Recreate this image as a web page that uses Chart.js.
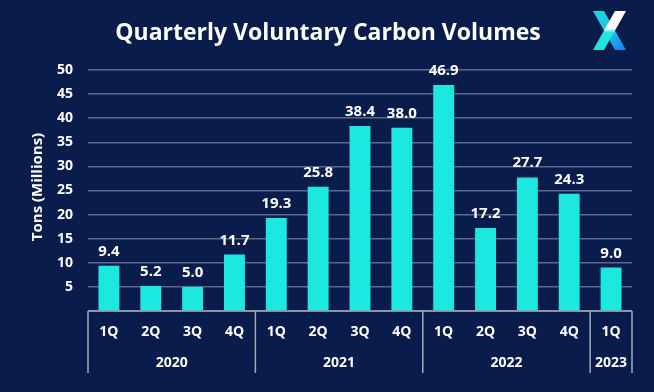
<!DOCTYPE html>
<html>
<head>
<meta charset="utf-8">
<script src="https://cdn.jsdelivr.net/npm/chart.js@4.4.1/dist/chart.umd.min.js"></script>
<style>
  html, body { margin: 0; padding: 0; background: #0a1c4c; }
  #wrap { width: 654px; height: 392px; position: relative; }
</style>
</head>
<body>
<div id="wrap"><canvas id="c" width="654" height="392"></canvas></div>
<script>
const quarters = ['1Q','2Q','3Q','4Q','1Q','2Q','3Q','4Q','1Q','2Q','3Q','4Q','1Q'];
const years = ['2020','2021','2022','2023'];
const yearSpans = [4, 4, 4, 1];
const volumes = [9.4, 5.2, 5.0, 11.7, 19.3, 25.8, 38.4, 38.0, 46.9, 17.2, 27.7, 24.3, 9.0];
const titleText = 'Quarterly Voluntary Carbon Volumes';
const yAxisTitle = 'Tons (Millions)';

const BG = '#0a1c4c';
const BAR = '#1ce8e0';
const GRID = '#5c6886';
const BOX = '#a3abbb';
const FONT = "'Open Sans', 'DejaVu Sans', sans-serif";

const decor = {
  id: 'decor',
  beforeDraw(chart) {
    const ctx = chart.ctx;
    ctx.save();
    ctx.fillStyle = BG;
    ctx.fillRect(0, 0, chart.width, chart.height);
    ctx.restore();
  },
  afterDraw(chart) {
    const ctx = chart.ctx;
    const xs = chart.scales.x;
    const ca = chart.chartArea;
    ctx.save();
    // title
    ctx.fillStyle = '#ffffff';
    ctx.font = "bold 23px " + FONT;
    ctx.textAlign = 'center';
    ctx.textBaseline = 'middle';
    ctx.fillText(titleText, 328, 33);

    // y axis title
    ctx.save();
    ctx.translate(38, 187);
    ctx.rotate(-Math.PI / 2);
    ctx.font = "bold 15px " + FONT;
    ctx.fillText(yAxisTitle, 0, 0);
    ctx.restore();

    // data labels
    const meta = chart.getDatasetMeta(0);
    ctx.font = "bold 15px " + FONT;
    ctx.textBaseline = 'alphabetic';
    meta.data.forEach((bar, i) => {
      ctx.fillText(volumes[i].toFixed(1), bar.x, bar.y - 10);
    });

    // x axis box
    const half = (xs.getPixelForValue(1) - xs.getPixelForValue(0)) / 2;
    const yTop = ca.bottom;
    const yBot = 373;
    ctx.strokeStyle = BOX;
    ctx.lineWidth = 1.5;
    ctx.beginPath();
    ctx.moveTo(ca.left, yTop);
    ctx.lineTo(ca.right, yTop);
    ctx.stroke();

    ctx.font = "bold 14px " + FONT;
    ctx.textBaseline = 'middle';
    quarters.forEach((q, i) => {
      ctx.fillText(q, xs.getPixelForValue(i), 332);
    });

    let idx = 0;
    ctx.beginPath();
    ctx.moveTo(xs.getPixelForValue(0) - half, yTop);
    ctx.lineTo(xs.getPixelForValue(0) - half, yBot);
    ctx.stroke();
    years.forEach((yr, k) => {
      const start = idx;
      const end = idx + yearSpans[k] - 1;
      const x0 = xs.getPixelForValue(start) - half;
      const x1 = xs.getPixelForValue(end) + half;
      ctx.fillText(yr, (x0 + x1) / 2, 363);
      ctx.beginPath();
      ctx.moveTo(x1, yTop);
      ctx.lineTo(x1, yBot);
      ctx.stroke();
      idx += yearSpans[k];
    });

    // logo X
    let g1 = ctx.createLinearGradient(593, 11, 626, 50);
    g1.addColorStop(0, '#1fd6de');
    g1.addColorStop(0.5, '#1cc8e6');
    g1.addColorStop(1, '#1a78f2');
    ctx.fillStyle = g1;
    ctx.beginPath();
    ctx.moveTo(593, 11); ctx.lineTo(604, 11); ctx.lineTo(626, 50); ctx.lineTo(615, 50);
    ctx.closePath(); ctx.fill();
    let g2 = ctx.createLinearGradient(0, 11, 0, 50);
    g2.addColorStop(0, '#ffffff');
    g2.addColorStop(0.45, '#ffffff');
    g2.addColorStop(0.55, '#22e6df');
    g2.addColorStop(1, '#1ee3dd');
    ctx.fillStyle = g2;
    ctx.beginPath();
    ctx.moveTo(615, 11); ctx.lineTo(626, 11); ctx.lineTo(604, 50); ctx.lineTo(593, 50);
    ctx.closePath(); ctx.fill();
    ctx.restore();
  }
};

new Chart(document.getElementById('c'), {
  type: 'bar',
  data: {
    labels: quarters.map((q, i) => q + ' ' + i),
    datasets: [{
      data: volumes,
      backgroundColor: BAR,
      borderWidth: 0,
      barPercentage: 0.5,
      categoryPercentage: 1.0
    }]
  },
  options: {
    responsive: false,
    animation: false,
    devicePixelRatio: 1,
    layout: { padding: { top: 70, right: 22, bottom: 0, left: 0 } },
    plugins: { legend: { display: false }, title: { display: false }, tooltip: { enabled: false } },
    scales: {
      x: {
        grid: { display: false, drawTicks: false },
        border: { display: false },
        ticks: { display: false },
        afterFit(s) { s.height = 81; }
      },
      y: {
        min: 0, max: 50,
        grid: { color: GRID, lineWidth: 1.5, drawTicks: false },
        border: { display: false },
        ticks: {
          stepSize: 5,
          color: '#ffffff',
          padding: 15,
          font: { family: FONT, size: 14, weight: 'bold' },
          callback: v => v === 0 ? '' : v
        },
        afterFit(s) { s.width = 88; }
      }
    }
  },
  plugins: [decor]
});
</script>
</body>
</html>
